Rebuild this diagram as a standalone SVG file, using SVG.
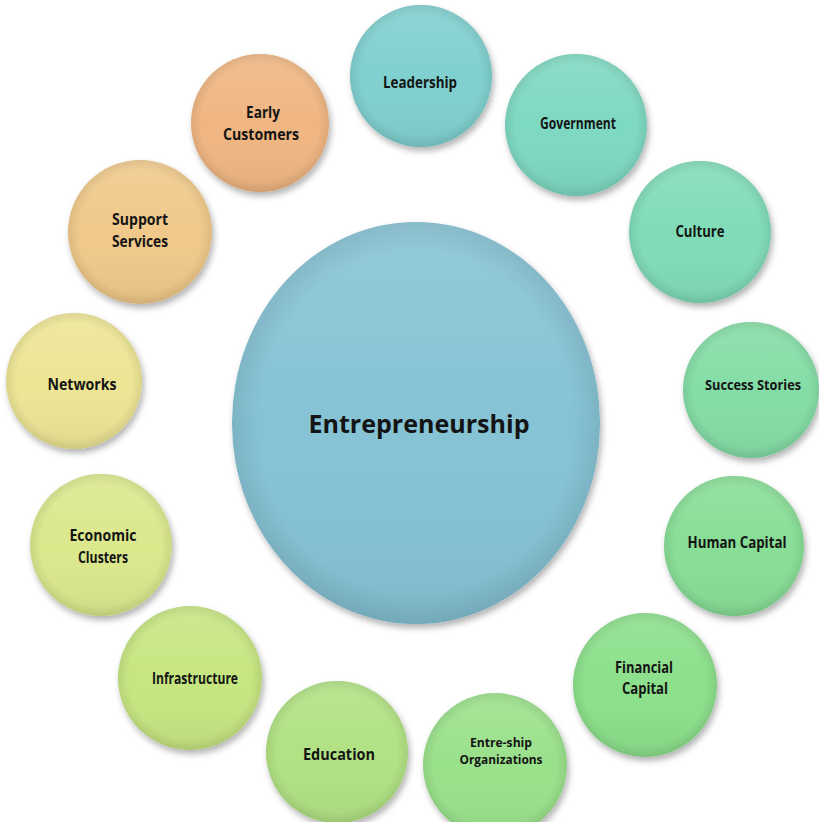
<svg xmlns="http://www.w3.org/2000/svg" width="819" height="822" viewBox="0 0 819 822">
<defs>
<filter id="sh" x="-20%" y="-20%" width="150%" height="150%">
<feDropShadow dx="2" dy="4" stdDeviation="3" flood-color="#000" flood-opacity="0.3"/>
</filter>
<linearGradient id="shade" x1="0" y1="0" x2="0" y2="1">
<stop offset="0" stop-color="#fff" stop-opacity="0.12"/>
<stop offset="0.5" stop-color="#fff" stop-opacity="0"/>
<stop offset="1" stop-color="#000" stop-opacity="0.06"/>
</linearGradient>
<radialGradient id="rim" cx="0.5" cy="0.5" r="0.5">
<stop offset="0.85" stop-color="#000" stop-opacity="0"/>
<stop offset="1" stop-color="#000" stop-opacity="0.08"/>
</radialGradient>
</defs>
<style>
.lbl{font-family:"Open Sans","Liberation Sans",sans-serif;font-weight:bold;font-size:15.5px;fill:#141414;text-anchor:middle}
.sm{font-size:12.5px}
.md{font-size:14px}
.big{font-family:"Open Sans","Liberation Sans",sans-serif;font-weight:bold;font-size:25px;fill:#141414;text-anchor:middle}
.ov{fill:url(#shade)}
.rm{fill:url(#rim)}
</style>
<rect width="819" height="822" fill="#fff"/>
<g id="connectors"></g>
<g id="center">
<ellipse cx="416" cy="423" rx="184" ry="201" fill="#86c3d5" filter="url(#sh)"/>
<ellipse cx="416" cy="423" rx="184" ry="201" class="ov"/>
<ellipse cx="416" cy="423" rx="184" ry="201" class="rm"/>
<text class="big" x="419" y="433" textLength="221" lengthAdjust="spacingAndGlyphs">Entrepreneurship</text>
</g>
<g id="leadership">
<circle cx="421" cy="76" r="71" fill="#7fd0cf" filter="url(#sh)"/>
<circle cx="421" cy="76" r="71" class="ov"/><circle cx="421" cy="76" r="71" class="rm"/>
<text class="lbl" x="420" y="88" textLength="74" lengthAdjust="spacingAndGlyphs">Leadership</text>
</g>
<g id="government">
<circle cx="576" cy="125" r="71" fill="#7ed9c2" filter="url(#sh)"/>
<circle cx="576" cy="125" r="71" class="ov"/><circle cx="576" cy="125" r="71" class="rm"/>
<text class="lbl" x="578" y="129" textLength="76" lengthAdjust="spacingAndGlyphs">Government</text>
</g>
<g id="culture">
<circle cx="700" cy="232" r="71" fill="#80dcb8" filter="url(#sh)"/>
<circle cx="700" cy="232" r="71" class="ov"/><circle cx="700" cy="232" r="71" class="rm"/>
<text class="lbl" x="700" y="237" textLength="49" lengthAdjust="spacingAndGlyphs">Culture</text>
</g>
<g id="success-stories">
<circle cx="751" cy="390" r="68" fill="#84dda6" filter="url(#sh)"/>
<circle cx="751" cy="390" r="68" class="ov"/><circle cx="751" cy="390" r="68" class="rm"/>
<text class="lbl md" x="753" y="390" textLength="96" lengthAdjust="spacingAndGlyphs">Success Stories</text>
</g>
<g id="human-capital">
<circle cx="734" cy="546" r="70" fill="#88de96" filter="url(#sh)"/>
<circle cx="734" cy="546" r="70" class="ov"/><circle cx="734" cy="546" r="70" class="rm"/>
<text class="lbl" x="737" y="548" textLength="99" lengthAdjust="spacingAndGlyphs">Human Capital</text>
</g>
<g id="financial-capital">
<circle cx="645" cy="685" r="72" fill="#8ce08b" filter="url(#sh)"/>
<circle cx="645" cy="685" r="72" class="ov"/><circle cx="645" cy="685" r="72" class="rm"/>
<text class="lbl" x="644" y="673" textLength="58" lengthAdjust="spacingAndGlyphs">Financial</text>
<text class="lbl" x="645" y="694" textLength="46" lengthAdjust="spacingAndGlyphs">Capital</text>
</g>
<g id="entre-ship-organizations">
<circle cx="495" cy="765" r="72" fill="#9ae18b" filter="url(#sh)"/>
<circle cx="495" cy="765" r="72" class="ov"/><circle cx="495" cy="765" r="72" class="rm"/>
<text class="lbl sm" x="501" y="747" textLength="62" lengthAdjust="spacingAndGlyphs">Entre-ship</text>
<text class="lbl sm" x="501" y="764" textLength="83" lengthAdjust="spacingAndGlyphs">Organizations</text>
</g>
<g id="education">
<circle cx="337" cy="752" r="71" fill="#b1e283" filter="url(#sh)"/>
<circle cx="337" cy="752" r="71" class="ov"/><circle cx="337" cy="752" r="71" class="rm"/>
<text class="lbl" x="339" y="760" textLength="72" lengthAdjust="spacingAndGlyphs">Education</text>
</g>
<g id="infrastructure">
<circle cx="190" cy="678" r="72" fill="#c6e681" filter="url(#sh)"/>
<circle cx="190" cy="678" r="72" class="ov"/><circle cx="190" cy="678" r="72" class="rm"/>
<text class="lbl" x="195" y="684" textLength="86" lengthAdjust="spacingAndGlyphs">Infrastructure</text>
</g>
<g id="economic-clusters">
<circle cx="101" cy="545" r="71" fill="#dbe88c" filter="url(#sh)"/>
<circle cx="101" cy="545" r="71" class="ov"/><circle cx="101" cy="545" r="71" class="rm"/>
<text class="lbl" x="103" y="541" textLength="67" lengthAdjust="spacingAndGlyphs">Economic</text>
<text class="lbl" x="103" y="563" textLength="50" lengthAdjust="spacingAndGlyphs">Clusters</text>
</g>
<g id="networks">
<circle cx="74" cy="381" r="68" fill="#ede594" filter="url(#sh)"/>
<circle cx="74" cy="381" r="68" class="ov"/><circle cx="74" cy="381" r="68" class="rm"/>
<text class="lbl" x="82" y="390" textLength="69" lengthAdjust="spacingAndGlyphs">Networks</text>
</g>
<g id="support-services">
<circle cx="140" cy="232" r="72" fill="#f0c98a" filter="url(#sh)"/>
<circle cx="140" cy="232" r="72" class="ov"/><circle cx="140" cy="232" r="72" class="rm"/>
<text class="lbl" x="140" y="225" textLength="56" lengthAdjust="spacingAndGlyphs">Support</text>
<text class="lbl" x="140" y="247" textLength="56" lengthAdjust="spacingAndGlyphs">Services</text>
</g>
<g id="early-customers">
<circle cx="260" cy="123" r="69" fill="#f0b682" filter="url(#sh)"/>
<circle cx="260" cy="123" r="69" class="ov"/><circle cx="260" cy="123" r="69" class="rm"/>
<text class="lbl" x="263" y="118" textLength="34" lengthAdjust="spacingAndGlyphs">Early</text>
<text class="lbl" x="261" y="140" textLength="76" lengthAdjust="spacingAndGlyphs">Customers</text>
</g>
</svg>
